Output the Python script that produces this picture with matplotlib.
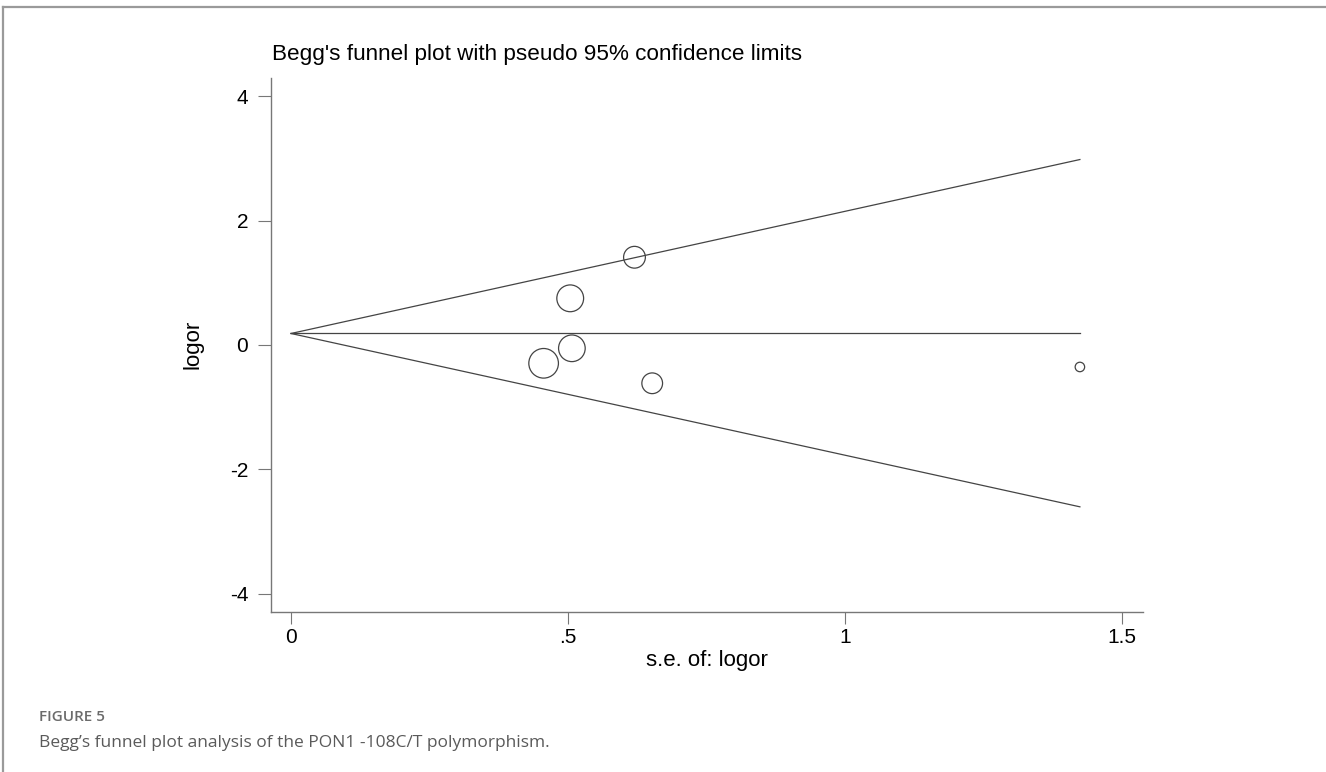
import matplotlib
matplotlib.use("Agg")
import matplotlib.pyplot as plt
from matplotlib.lines import Line2D
import numpy as np

# study estimates
se_logor = [0.620, 0.504, 0.507, 0.456, 0.652, 1.424]
logor = [1.41, 0.750, -0.053, -0.294, -0.615, -0.353]

# pooled estimate and pseudo 95% limits (end points of the funnel)
funnel_se = [0.0, 1.424]
pooled = [0.185, 0.185]
upper_limit = [0.185, 2.98]
lower_limit = [0.185, -2.60]

xticks = [0, 0.5, 1, 1.5]
xtick_labels = ["0", ".5", "1", "1.5"]
yticks = [-4, -2, 0, 2, 4]
ytick_labels = ["-4", "-2", "0", "2", "4"]

W, H = 1326, 772
fig = plt.figure(figsize=(W / 100, H / 100), dpi=100)
plt.rcParams['font.family'] = ['Liberation Sans', 'DejaVu Sans']

ax = fig.add_axes([271 / W, 1 - 612 / H, (1143 - 271) / W, (612 - 78) / H])
ax.set_xlim(-0.0361, 1.5379)
ax.set_ylim(-4.29, 4.29)

line_col = "#444444"
ax.plot(funnel_se, upper_limit, color=line_col, lw=0.9)
ax.plot(funnel_se, lower_limit, color=line_col, lw=0.9)
ax.plot(funnel_se, pooled, color=line_col, lw=0.9)

# circle area follows study weight (1/se^2), as in Stata's metafunnel
w = 1 / np.array(se_logor) ** 2
ax.scatter(se_logor, logor, s=94.5 * w, facecolors="none",
           edgecolors=line_col, linewidths=0.9, zorder=3)

for side in ["top", "right"]:
    ax.spines[side].set_visible(False)
for side in ["left", "bottom"]:
    ax.spines[side].set_color("#777777")
    ax.spines[side].set_linewidth(1.0)

ax.set_xticks(xticks)
ax.set_xticklabels(xtick_labels)
ax.set_yticks(yticks)
ax.set_yticklabels(ytick_labels)
ax.tick_params(axis="y", direction="out", length=9.4, width=0.8, color="#777777",
               pad=7, labelsize=15)
ax.tick_params(axis="x", direction="out", length=8.6, width=0.8, color="#777777",
               pad=3, labelsize=15)

fig.text(707 / W, 1 - 666 / H, "s.e. of: logor", ha="center", va="baseline", fontsize=16)
fig.text(203 / W, 1 - 344 / H, "logor", ha="right", va="center", rotation=90, fontsize=16)
fig.text(272 / W, 1 - 60 / H, "Begg's funnel plot with pseudo 95% confidence limits",
         ha="left", va="baseline", fontsize=16.2)

# caption
fig.text(39 / W, 1 - 721 / H, "FIGURE 5", ha="left", va="baseline", fontsize=11,
         family=["Open Sans", "DejaVu Sans"], fontweight="semibold", color="#6b6b6b")
fig.text(39 / W, 1 - 747 / H, "Begg\u2019s funnel plot analysis of the PON1 -108C/T polymorphism.",
         ha="left", va="baseline", fontsize=12.5,
         family=["Open Sans", "DejaVu Sans"], color="#5a5a5a")

# page frame (top and left edges)
fig.add_artist(Line2D([3 / W, 1], [1 - 7 / H, 1 - 7 / H], transform=fig.transFigure,
                      color="#9a9a9a", lw=1.6))
fig.add_artist(Line2D([3 / W, 3 / W], [0, 1 - 7 / H], transform=fig.transFigure,
                      color="#9a9a9a", lw=1.6))

fig.savefig("out.png", dpi=100)
